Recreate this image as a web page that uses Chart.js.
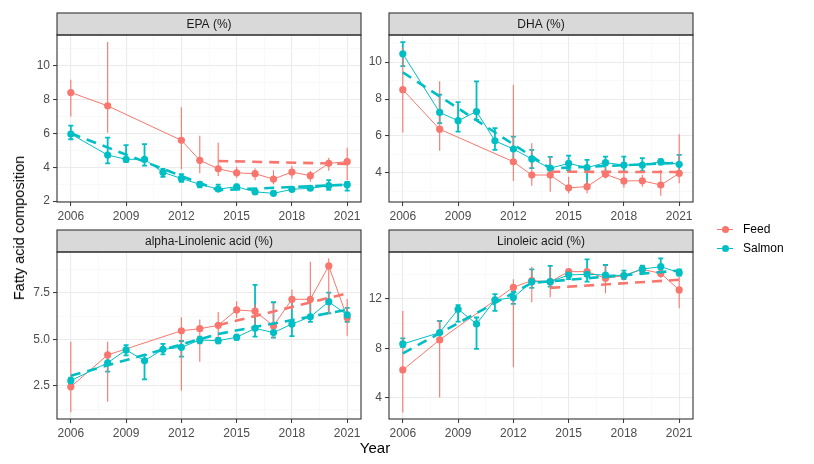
<!DOCTYPE html>
<html>
<head>
<meta charset="utf-8">
<script src="https://cdn.jsdelivr.net/npm/chart.js@4.4.1/dist/chart.umd.min.js"></script>
<style>
  body { margin: 0; background: #fff; width: 814px; height: 464px; position: relative; overflow: hidden;
         font-family: "Liberation Sans", Arial, sans-serif; }
  canvas { position: absolute; }
  #ytitle { position: absolute; left: 19px; top: 228px; transform: translate(-50%, -50%) rotate(-90deg);
            font-size: 14.5px; white-space: nowrap; color: #000; }
  #xtitle { position: absolute; left: 375px; top: 447px; transform: translate(-50%, -50%);
            font-size: 15px; color: #000; }
  .leg { position: absolute; left: 716px; height: 18px; line-height: 18px; font-size: 12px; color: #000; }
  .leg .key { position: absolute; left: 0; top: 0; width: 18px; height: 18px; }
  .leg .key::before { content: ""; position: absolute; left: 1px; right: 1px; top: 8.5px; height: 1.2px; background: var(--c); }
  .leg .key::after { content: ""; position: absolute; left: 5.5px; top: 5.5px; width: 7px; height: 7px; border-radius: 50%; background: var(--c); }
  .leg span.t { position: absolute; left: 27px; top: 0; }
</style>
</head>
<body>
<canvas id="epa" width="370" height="225" style="left:0px;top:0px"></canvas>
<canvas id="dha" width="370" height="225" style="left:332px;top:0px"></canvas>
<canvas id="ala" width="370" height="225" style="left:0px;top:217px"></canvas>
<canvas id="la" width="370" height="225" style="left:332px;top:217px"></canvas>
<div id="ytitle">Fatty acid composition</div>
<div id="xtitle">Year</div>
<div class="leg" style="top:220px"><span class="key" style="--c:#F8766D"></span><span class="t">Feed</span></div>
<div class="leg" style="top:239px"><span class="key" style="--c:#00BFC4"></span><span class="t">Salmon</span></div>

<script>
const feedYears = [2006, 2008, 2012, 2013, 2014, 2015, 2016, 2017, 2018, 2019, 2020, 2021]
const salmonYears = [2006, 2008, 2009, 2010, 2011, 2012, 2013, 2014, 2015, 2016, 2017, 2018, 2019, 2020, 2021]
const xMajor = [2006, 2009, 2012, 2015, 2018, 2021]
const xMinor = [2007.5, 2010.5, 2013.5, 2016.5, 2019.5]

// dashed trend lines
const feedFitYears = [2014, 2021]
const salmonFitYears = [2006, 2014, 2021]
const laSalmonFitYears = [2006, 2013, 2021]

// EPA (%)
const epaFeed = [8.41, 7.62, 5.59, 4.41, 3.91, 3.67, 3.62, 3.30, 3.72, 3.50, 4.23, 4.33]
const epaFeedLow = [7.0, 6.04, 3.88, 3.64, 3.48, 3.38, 3.24, 3.0, 3.34, 3.14, 3.79, 3.24]
const epaFeedHigh = [9.16, 11.39, 7.54, 5.86, 5.45, 4.03, 3.94, 3.83, 4.07, 3.79, 4.56, 5.15]
const epaSalmon = [5.96, 4.72, 4.47, 4.47, 3.70, 3.34, 2.99, 2.71, 2.85, 2.55, 2.46, 2.70, 2.76, 2.91, 2.97]
const epaSalmonLow = [5.65, 4.23, 4.3, 4.09, 3.44, 3.14, 2.81, 2.6, 2.72, 2.45, 2.36, 2.6, 2.65, 2.66, 2.62]
const epaSalmonHigh = [6.46, 5.75, 5.30, 5.36, 3.90, 3.60, 3.14, 2.98, 2.98, 2.68, 2.58, 2.82, 2.88, 3.24, 3.14]
const epaFeedFit = [4.37, 4.2]
const epaSalmonFit = [6.0, 2.65, 2.97]

// DHA (%)
const dhaFeed = [8.51, 6.37, 4.61, 3.89, 3.89, 3.20, 3.26, 3.93, 3.57, 3.58, 3.35, 3.98]
const dhaFeedLow = [6.19, 5.20, 3.57, 3.31, 2.98, 2.90, 2.90, 3.70, 3.20, 3.25, 2.77, 3.44]
const dhaFeedHigh = [10.8, 8.96, 8.78, 5.61, 4.89, 3.80, 3.60, 4.34, 3.98, 3.90, 4.16, 6.10]
const dhaSalmon = [10.45, 7.28, 6.83, 7.33, 5.74, 5.30, 4.76, 4.26, 4.52, 4.29, 4.56, 4.43, 4.43, 4.61, 4.47]
const dhaSalmonLow = [9.78, 6.70, 6.24, 6.88, 5.25, 4.61, 4.26, 4.0, 4.16, 3.2, 4.07, 4.07, 4.1, 4.45, 4.07]
const dhaSalmonHigh = [11.08, 8.24, 7.84, 8.96, 6.43, 5.97, 5.25, 4.87, 4.94, 4.71, 4.89, 4.89, 4.8, 4.75, 4.98]
const dhaFeedFit = [4.07, 4.05]
const dhaSalmonFit = [9.45, 4.25, 4.55]

// alpha-Linolenic acid (%)
const alaFeed = [2.46, 4.17, 5.47, 5.58, 5.76, 6.59, 6.52, 5.73, 7.16, 7.16, 8.95, 6.17]
const alaFeedLow = [1.09, 1.66, 2.25, 3.81, 5.0, 6.15, 5.8, 5.06, 6.6, 6.5, 6.35, 5.2]
const alaFeedHigh = [4.88, 4.88, 6.19, 6.08, 6.48, 7.06, 6.9, 6.95, 7.68, 9.18, 9.37, 7.17]
const alaSalmon = [2.79, 3.75, 4.44, 3.86, 4.47, 4.58, 4.97, 4.94, 5.12, 5.6, 5.37, 5.83, 6.22, 7.03, 6.32]
const alaSalmonLow = [2.6, 3.27, 4.15, 2.86, 4.2, 4.08, 4.8, 4.8, 4.98, 5.15, 5.1, 5.18, 5.95, 6.41, 5.95]
const alaSalmonHigh = [2.95, 4.11, 4.7, 4.17, 4.76, 4.92, 5.15, 5.08, 5.26, 7.93, 7.0, 7.2, 7.1, 7.52, 6.7]
const alaFeedFit = [5.77, 7.48]
const alaSalmonFit = [3.05, 5.3, 6.6]

// Linoleic acid (%)
const laFeed = [6.26, 8.69, 12.95, 13.48, 13.40, 14.21, 14.21, 13.67, 13.89, 14.4, 14.07, 12.73]
const laFeedLow = [2.81, 4.02, 6.48, 11.73, 12.14, 13.8, 13.8, 12.46, 13.5, 14.0, 13.7, 11.25]
const laFeedHigh = [11.03, 10.3, 13.6, 14.6, 14.6, 14.5, 14.5, 14.75, 14.2, 14.7, 14.4, 13.8]
const laSalmon = [8.36, 9.28, 11.17, 9.98, 11.92, 12.11, 13.4, 13.4, 13.94, 14.0, 13.94, 13.89, 14.42, 14.61, 14.13]
const laSalmonLow = [8.1, 8.69, 10.17, 7.96, 11.03, 11.6, 12.9, 13.0, 13.6, 13.4, 13.5, 13.6, 14.1, 14.1, 13.9]
const laSalmonHigh = [8.82, 10.22, 11.5, 10.5, 12.4, 12.6, 14.4, 14.67, 14.3, 15.2, 14.75, 14.3, 14.7, 15.29, 14.4]
const laFeedFit = [12.9, 13.55]
const laSalmonFit = [7.6, 13.3, 14.3]

const FEED = "#F8766D"
const SALMON = "#00BFC4"

Chart.defaults.font.family = '"Liberation Sans", Arial, sans-serif'

const pts = (xs, ys) => xs.map((x, i) => ({ x, y: ys[i] }))

// grey strip on top + dark border round the panel
const panelDecor = {
  id: "panelDecor",
  afterDraw(chart, args, opts) {
    const { ctx, chartArea: a } = chart
    ctx.save()
    ctx.fillStyle = "#D9D9D9"
    ctx.fillRect(a.left, a.top - 22, a.width, 22)
    ctx.strokeStyle = "#333333"
    ctx.lineWidth = 1.1
    ctx.strokeRect(a.left, a.top - 22, a.width, 22)
    ctx.strokeRect(a.left, a.top, a.width, a.height)
    ctx.fillStyle = "#1A1A1A"
    ctx.font = '12px "Liberation Sans", Arial, sans-serif'
    ctx.textAlign = "center"
    ctx.textBaseline = "middle"
    ctx.fillText(opts.title, (a.left + a.right) / 2, a.top - 10.5)
    ctx.restore()
  }
}

// vertical error bars, drawn under the lines
const errorBars = {
  id: "errorBars",
  beforeDatasetsDraw(chart) {
    const { ctx, chartArea: a, scales: { x, y } } = chart
    ctx.save()
    ctx.beginPath()
    ctx.rect(a.left, a.top, a.width, a.height)
    ctx.clip()
    chart.data.datasets.forEach(ds => {
      if (!ds.errLow) return
      ctx.strokeStyle = ds.borderColor
      ctx.lineWidth = ds.errWidth
      ds.data.forEach((p, i) => {
        const px = x.getPixelForValue(p.x)
        const lo = y.getPixelForValue(ds.errLow[i])
        const hi = y.getPixelForValue(ds.errHigh[i])
        ctx.beginPath()
        ctx.moveTo(px, lo)
        ctx.lineTo(px, hi)
        if (ds.errCap) {
          ctx.moveTo(px - ds.errCap, lo); ctx.lineTo(px + ds.errCap, lo)
          ctx.moveTo(px - ds.errCap, hi); ctx.lineTo(px + ds.errCap, hi)
        }
        ctx.stroke()
      })
    })
    ctx.restore()
  }
}

function makePanel(id, title, yRange, yMajor, yMinor, fmt, feed, salmon, fits) {
  const xAll = [...xMajor, ...xMinor].sort((a, b) => a - b)
  const yAll = [...yMajor, ...yMinor].sort((a, b) => a - b)
  const gridOpts = major => ({
    color: c => major.includes(c.tick.value) ? "#EBEBEB" : "#F5F5F5",
    lineWidth: c => major.includes(c.tick.value) ? 1.1 : 0.6,
    tickColor: c => major.includes(c.tick.value) ? "#333333" : "rgba(0,0,0,0)",
    tickLength: 4,
    tickWidth: 1
  })

  return new Chart(document.getElementById(id), {
    type: "line",
    data: {
      datasets: [
        {
          data: pts(fits.salmonYears, fits.salmon),
          borderColor: SALMON, borderWidth: 2.6, borderDash: [10, 7],
          pointRadius: 0, fill: false
        },
        {
          data: pts(feedFitYears, fits.feed),
          borderColor: FEED, borderWidth: 2.6, borderDash: [10, 7],
          pointRadius: 0, fill: false
        },
        {
          data: pts(salmonYears, salmon.mean),
          borderColor: SALMON, backgroundColor: SALMON, borderWidth: 1,
          pointRadius: 3.6, pointBorderWidth: 0,
          errLow: salmon.low, errHigh: salmon.high, errWidth: 1.8, errCap: 2.5
        },
        {
          data: pts(feedYears, feed.mean),
          borderColor: FEED, backgroundColor: FEED, borderWidth: 1,
          pointRadius: 3.6, pointBorderWidth: 0,
          errLow: feed.low, errHigh: feed.high, errWidth: 1.1, errCap: 0
        }
      ]
    },
    options: {
      responsive: false,
      animation: false,
      layout: { padding: { top: 35, left: 0, right: 9, bottom: 0 } },
      plugins: {
        legend: { display: false },
        tooltip: { enabled: false },
        panelDecor: { title }
      },
      scales: {
        x: {
          type: "linear",
          min: 2005.25,
          max: 2021.75,
          afterBuildTicks: s => { s.ticks = xAll.map(v => ({ value: v })) },
          afterFit: s => { s.height = 23 },
          grid: gridOpts(xMajor),
          border: { display: false },
          ticks: {
            autoSkip: false, maxRotation: 0, padding: 3,
            color: "#4D4D4D", font: { size: 12 },
            callback: v => xMajor.includes(v) ? String(v) : ""
          }
        },
        y: {
          min: yRange[0],
          max: yRange[1],
          afterBuildTicks: s => { s.ticks = yAll.map(v => ({ value: v })) },
          afterFit: s => { s.width = 57 },
          grid: gridOpts(yMajor),
          border: { display: false },
          ticks: {
            autoSkip: false, padding: 3,
            color: "#4D4D4D", font: { size: 12 },
            callback: v => yMajor.includes(v) ? fmt(v) : ""
          }
        }
      }
    },
    plugins: [errorBars, panelDecor]
  })
}

const intFmt = v => String(v)
const oneDec = v => v.toFixed(1)

makePanel("epa", "EPA (%)", [1.95, 11.8], [2, 4, 6, 8, 10], [3, 5, 7, 9, 11], intFmt,
  { mean: epaFeed, low: epaFeedLow, high: epaFeedHigh },
  { mean: epaSalmon, low: epaSalmonLow, high: epaSalmonHigh },
  { feed: epaFeedFit, salmon: epaSalmonFit, salmonYears: salmonFitYears })

makePanel("dha", "DHA (%)", [2.43, 11.47], [4, 6, 8, 10], [3, 5, 7, 9, 11], intFmt,
  { mean: dhaFeed, low: dhaFeedLow, high: dhaFeedHigh },
  { mean: dhaSalmon, low: dhaSalmonLow, high: dhaSalmonHigh },
  { feed: dhaFeedFit, salmon: dhaSalmonFit, salmonYears: salmonFitYears })

makePanel("ala", "alpha-Linolenic acid (%)", [0.73, 9.7], [2.5, 5, 7.5], [1.25, 3.75, 6.25, 8.75], oneDec,
  { mean: alaFeed, low: alaFeedLow, high: alaFeedHigh },
  { mean: alaSalmon, low: alaSalmonLow, high: alaSalmonHigh },
  { feed: alaFeedFit, salmon: alaSalmonFit, salmonYears: salmonFitYears })

makePanel("la", "Linoleic acid (%)", [2.29, 15.8], [4, 8, 12], [6, 10, 14], intFmt,
  { mean: laFeed, low: laFeedLow, high: laFeedHigh },
  { mean: laSalmon, low: laSalmonLow, high: laSalmonHigh },
  { feed: laFeedFit, salmon: laSalmonFit, salmonYears: laSalmonFitYears })
</script>
</body>
</html>
